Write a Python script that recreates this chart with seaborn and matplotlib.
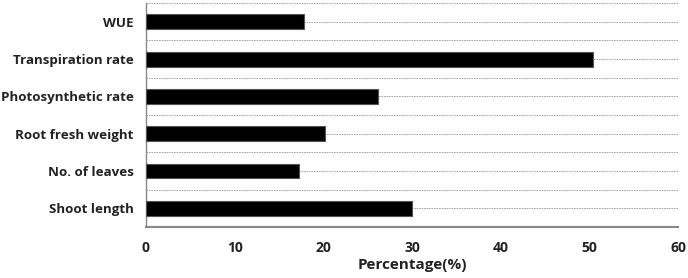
import numpy as np
import pandas as pd
import matplotlib
matplotlib.use("Agg")
import matplotlib.pyplot as plt
import seaborn as sns

categories = ["WUE", "Transpiration rate", "Photosynthetic rate",
              "Root fresh weight", "No. of leaves", "Shoot length"]
percentages = [17.8, 50.4, 26.2, 20.2, 17.3, 30.0]
x_ticks = [0, 10, 20, 30, 40, 50, 60]

df = pd.DataFrame({"trait": categories, "pct": percentages})

sns.set_style("white")
plt.rcParams['font.family'] = ['Open Sans', 'DejaVu Sans']

fig = plt.figure(figsize=(6.88, 2.78), dpi=100)
ax = fig.add_axes([0.2122, 0.1835, 0.7733, 0.8055])

sns.barplot(data=df, y="trait", x="pct", orient="h", color="black",
            width=0.4, edgecolor="#555555", linewidth=0.8, ax=ax, zorder=3)

ax.set_xlim(0, 60)
ax.set_ylim(5.5, -0.5)
ax.set_xticks(x_ticks)
ax.set_yticks(np.arange(-0.5, 6.0, 0.5), minor=True)
ax.grid(axis="y", which="both", color="#999999", linestyle=(0, (2, 1)), linewidth=0.6, zorder=0)
ax.grid(axis="x", visible=False)

for s in ["top", "right"]:
    ax.spines[s].set_visible(False)
ax.spines["left"].set_color("#888888")
ax.spines["left"].set_linewidth(1.0)
ax.spines["bottom"].set_color("#888888")
ax.spines["bottom"].set_linewidth(1.5)

ax.tick_params(axis="both", which="both", length=0)
ax.tick_params(axis="y", pad=9, labelsize=9.6)
ax.tick_params(axis="x", pad=10, labelsize=10)
for lbl in ax.get_yticklabels() + ax.get_xticklabels():
    lbl.set_fontweight("bold")
    lbl.set_color("#222222")

ax.set_ylabel("")
ax.set_xlabel("Percentage(%)", fontsize=11, fontweight="bold", color="#222222", labelpad=2)

plt.savefig("out.png", dpi=100)
